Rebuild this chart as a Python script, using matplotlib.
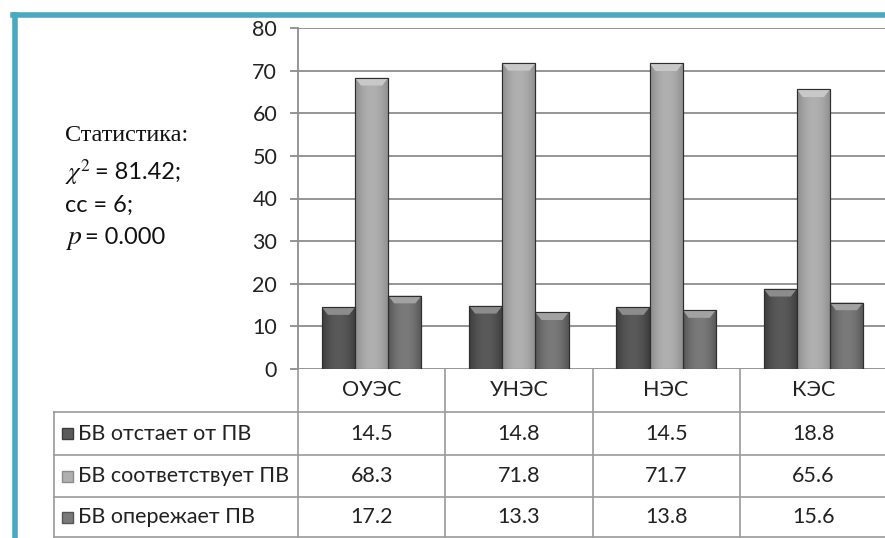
import numpy as np
import matplotlib.pyplot as plt
import matplotlib.transforms as mtransforms
from matplotlib.patches import Polygon, Rectangle
from matplotlib.lines import Line2D

categories = ["ОУЭС", "УНЭС", "НЭС", "КЭС"]
series_names = ["БВ отстает от ПВ", "БВ соответствует ПВ", "БВ опережает ПВ"]
behind = [14.5, 14.8, 14.5, 18.8]
match = [68.3, 71.8, 71.7, 65.6]
ahead = [17.2, 13.3, 13.8, 15.6]
y_ticks = [0, 10, 20, 30, 40, 50, 60, 70, 80]

series_values = [behind, match, ahead]
# (edge shade, centre shade) for each series
shades = [("#3c3c3c", "#5a5a5a"), ("#8c8c8c", "#b0b0b0"), ("#555555", "#7a7a7a")]

W, H = 885, 538
fig = plt.figure(figsize=(W / 100, H / 100), dpi=100)
fig.patch.set_facecolor("white")

sans = ["Lato", "DejaVu Sans"]
serif = ["Liberation Serif", "DejaVu Serif"]
txt = "#222222"
fs = 15.5

# chart axes
ax = fig.add_axes([298 / W, 1 - 369 / H, 589 / W, 341 / H])
ax.set_xlim(0, 4)
ax.set_ylim(0, 80)
ax.set_yticks(y_ticks)
ax.set_xticks([])
ax.yaxis.grid(True, color="#8c8c8c", linewidth=1.3)
ax.set_axisbelow(True)
for side in ["top", "right", "bottom"]:
    ax.spines[side].set_visible(False)
ax.spines["left"].set_color("#8c8c8c")
ax.spines["left"].set_linewidth(1.3)
ax.tick_params(axis="y", length=6, width=1.3, color="#8c8c8c", pad=9,
               labelsize=fs, labelcolor=txt)
for lab in ax.get_yticklabels():
    lab.set_fontfamily(sans)

bw = 0.225
x = np.arange(len(categories)) + 0.5


def lerp(c1, c2, t):
    a = np.array(plt.matplotlib.colors.to_rgb(c1))
    b = np.array(plt.matplotlib.colors.to_rgb(c2))
    return a + (b - a) * t


for k, vals in enumerate(series_values):
    edge, centre = shades[k]
    xs = x + (k - 1) * bw
    bars = ax.bar(xs, vals, width=bw, color=centre, edgecolor="#2e2e2e",
                  linewidth=0.8, zorder=3)
    t = np.abs(np.linspace(-1, 1, 40))
    grad = np.array([lerp(centre, edge, v ** 2) for v in t])[None, :, :]
    for b in bars:
        x0, w, h = b.get_x(), b.get_width(), b.get_height()
        im = ax.imshow(grad, extent=[x0, x0 + w, 0, h], aspect="auto",
                       zorder=3.5, interpolation="bicubic")
        im.set_clip_path(b)
        # bevelled top
        cap = 1.8
        ax.add_patch(Polygon([[x0, h], [x0 + w, h], [x0 + w * 0.82, h - cap],
                              [x0 + w * 0.18, h - cap]], closed=True,
                             facecolor=lerp(centre, "white", 0.3),
                             edgecolor="none", zorder=4))
        ax.add_patch(Rectangle((x0, 0), w, h, facecolor="none",
                               edgecolor="#2e2e2e", linewidth=0.8, zorder=4.5))

# frame of the whole chart (teal border on left and top)
fig.add_artist(Line2D([14.5 / W, 14.5 / W], [0, 1 - 14.5 / H], color="#4aa8c0",
                      linewidth=4, transform=fig.transFigure))
fig.add_artist(Line2D([12.5 / W, 1], [1 - 14.5 / H, 1 - 14.5 / H], color="#4aa8c0",
                      linewidth=4, transform=fig.transFigure))

# data table under the chart
gc = "#9a9a9a"
blend = mtransforms.blended_transform_factory(ax.transData, fig.transFigure)
row_y = [1 - 369 / H, 1 - 412 / H, 1 - 455 / H, 1 - 497 / H, 1 - 537 / H]
left_x = 54 / W

for i in range(len(categories) + 1):
    fig.add_artist(Line2D([i, i], [row_y[0], row_y[-1]], color=gc, linewidth=1.2,
                          transform=blend, clip_on=False))
fig.add_artist(Line2D([left_x, left_x], [row_y[1], row_y[-1]], color=gc,
                      linewidth=1.2, transform=fig.transFigure))
for j in range(1, 5):
    fig.add_artist(Line2D([left_x, 1], [row_y[j], row_y[j]], color=gc,
                          linewidth=1.2, transform=fig.transFigure))

for i, cat in enumerate(categories):
    fig.text(x[i], (row_y[0] + row_y[1]) / 2, cat, transform=blend, ha="center",
             va="center", fontsize=fs, color=txt, family=sans)
    for k, vals in enumerate(series_values):
        fig.text(x[i], (row_y[k + 1] + row_y[k + 2]) / 2, f"{vals[i]:.1f}",
                 transform=blend, ha="center", va="center", fontsize=fs,
                 color=txt, family=sans)

for k, name in enumerate(series_names):
    yc = (row_y[k + 1] + row_y[k + 2]) / 2
    edge, centre = shades[k]
    fig.add_artist(Rectangle((62 / W, yc - 5.5 / H), 11 / W, 11 / H,
                             facecolor=centre, edgecolor=edge, linewidth=1.0,
                             transform=fig.transFigure))
    fig.text(78 / W, yc, name, ha="left", va="center", fontsize=fs,
             color=txt, family=sans)

# statistics note
fig.text(65 / W, 1 - 136 / H, "Статистика:", fontsize=17.5, family=serif,
         color="#111111", va="center")
fig.text(65 / W, 1 - 172 / H, r"$\chi^2$", fontsize=18, color="#111111",
         va="center", math_fontfamily="stix")
fig.text(95 / W, 1 - 172 / H, "= 81.42;", fontsize=17, family=sans,
         color="#111111", va="center")
fig.text(65 / W, 1 - 205 / H, "cc = 6;", fontsize=17, family=sans,
         color="#111111", va="center")
fig.text(65 / W, 1 - 238 / H, r"$p$", fontsize=20, color="#111111",
         va="center", math_fontfamily="stix")
fig.text(85 / W, 1 - 238 / H, "= 0.000", fontsize=17, family=sans,
         color="#111111", va="center")

fig.savefig("out.png", dpi=100)
